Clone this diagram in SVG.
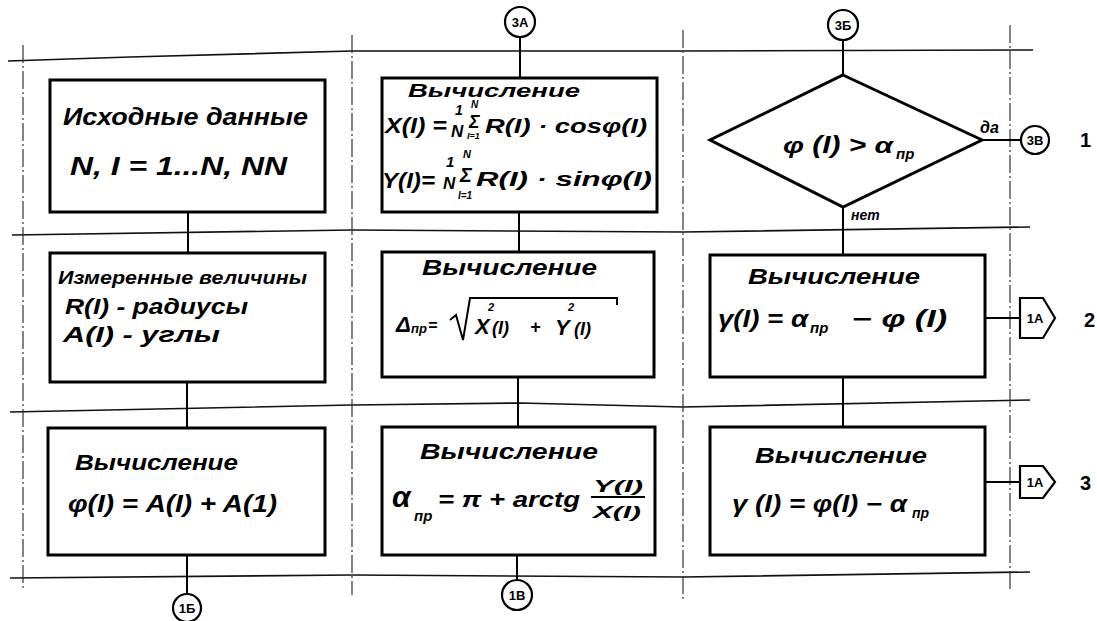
<svg xmlns="http://www.w3.org/2000/svg" width="1097" height="621" viewBox="0 0 1097 621">
<style>
.grid{fill:none;stroke:#111;stroke-width:1.6}
.dash{fill:none;stroke:#333;stroke-width:1.2;stroke-dasharray:18 3 2 3}
.box{fill:#fff;stroke:#000;stroke-width:3}
.con{fill:none;stroke:#000;stroke-width:2}
.cc{fill:#fff;stroke:#000;stroke-width:2.2}
text{font-family:"Liberation Sans",Arial,sans-serif;font-style:italic;font-weight:bold;fill:#000}
.cl{font-size:13px;font-style:normal;text-anchor:middle}
.rl{font-size:20px;font-style:normal}
</style>
<rect width="1097" height="621" fill="#fff"/>
<g id="grid">
<polyline class="grid" points="8,61 130,57 352,51 683,51 1033,50"/>
<polyline class="grid" points="12,235 352,230 683,232 1030,227"/>
<polyline class="grid" points="10,412 352,405 520,403 683,407 1030,400"/>
<polyline class="grid" points="10,578 352,575 683,577 1030,572"/>
<line class="dash" x1="23" y1="45" x2="23" y2="590"/>
<line class="dash" x1="352" y1="35" x2="352" y2="595"/>
<line class="dash" x1="683" y1="30" x2="683" y2="600"/>
<line class="dash" x1="1010" y1="25" x2="1010" y2="590"/>
</g>
<g id="connectors">
<line class="con" x1="520" y1="37" x2="520" y2="78"/>
<line class="con" x1="519" y1="212" x2="519" y2="252"/>
<line class="con" x1="518" y1="377" x2="518" y2="427"/>
<line class="con" x1="517" y1="555" x2="517" y2="580"/>
<line class="con" x1="188" y1="212" x2="188" y2="253"/>
<line class="con" x1="187" y1="382" x2="187" y2="428"/>
<line class="con" x1="187" y1="555" x2="187" y2="594"/>
<line class="con" x1="843" y1="40" x2="843" y2="75"/>
<line class="con" x1="982" y1="140" x2="1021" y2="140"/>
<line class="con" x1="843" y1="207" x2="843" y2="255"/>
<line class="con" x1="843" y1="377" x2="843" y2="427"/>
<line class="con" x1="985" y1="318" x2="1020" y2="318"/>
<line class="con" x1="985" y1="482" x2="1020" y2="482"/>
<text x="980" y="133" style="font-size:16px">да</text>
<text x="851" y="220" style="font-size:14px">нет</text>
</g>
<g id="c3A"><circle class="cc" cx="520" cy="22" r="15"/><text class="cl" x="520" y="27">3А</text></g>
<g id="c3B6"><circle class="cc" cx="843" cy="25" r="15"/><text class="cl" x="843" y="30">3Б</text></g>
<g id="c3V"><circle class="cc" cx="1035" cy="140" r="14"/><text class="cl" x="1035" y="145">3В</text></g>
<g id="c1B6"><circle class="cc" cx="187" cy="608" r="14"/><text class="cl" x="187" y="613">1Б</text></g>
<g id="c1V"><circle class="cc" cx="517" cy="595" r="15"/><text class="cl" x="517" y="600">1В</text></g>
<g id="p1A2"><polygon class="cc" points="1020,298 1043,298 1055,318 1043,338 1020,338"/><text class="cl" x="1035" y="323">1А</text></g>
<g id="p1A3"><polygon class="cc" points="1020,466 1043,466 1055,482 1043,498 1020,498"/><text class="cl" x="1035" y="487">1А</text></g>
<g id="rows">
<text class="rl" x="1080" y="147">1</text>
<text class="rl" x="1084" y="327">2</text>
<text class="rl" x="1080" y="490">3</text>
</g>
<g id="input">
<rect class="box" x="50" y="80" width="275" height="132"/>
<text x="63" y="125" style="font-size:24px" textLength="245" lengthAdjust="spacingAndGlyphs">Исходные данные</text>
<text x="70" y="175" style="font-size:26px" textLength="217" lengthAdjust="spacingAndGlyphs">N, I = 1...N, NN</text>
</g>
<g id="measured">
<rect class="box" x="50" y="253" width="275" height="129"/>
<text x="58" y="284" style="font-size:19px" textLength="249" lengthAdjust="spacingAndGlyphs">Измеренные величины</text>
<text x="65" y="314" style="font-size:22px" textLength="183" lengthAdjust="spacingAndGlyphs">R(I) - радиусы</text>
<text x="63" y="342" style="font-size:22px" textLength="157" lengthAdjust="spacingAndGlyphs">A(I) - углы</text>
</g>
<g id="calcPhi">
<rect class="box" x="48" y="428" width="277" height="127"/>
<text x="75" y="470" style="font-size:22px" textLength="163" lengthAdjust="spacingAndGlyphs">Вычисление</text>
<text x="68" y="512" style="font-size:24px" textLength="209" lengthAdjust="spacingAndGlyphs">φ(I) = A(I) + A(1)</text>
</g>
<g id="calcXY">
<rect class="box" x="382" y="78" width="275" height="134"/>
<text x="408" y="97" style="font-size:18px" textLength="172" lengthAdjust="spacingAndGlyphs">Вычисление</text>
<text x="385" y="133" style="font-size:22px" textLength="62" lengthAdjust="spacingAndGlyphs">X(I) =</text>
<text x="455" y="115" style="font-size:14px">1</text>
<text x="451" y="137" style="font-size:17px">N</text>
<text x="469" y="128" style="font-size:18px">Σ</text>
<text x="471" y="108" style="font-size:10px">N</text>
<text x="467" y="139" style="font-size:9px">I=1</text>
<text x="485" y="133" style="font-size:21px" textLength="162" lengthAdjust="spacingAndGlyphs">R(I) · cosφ(I)</text>
<text x="382" y="188" style="font-size:22px" textLength="53" lengthAdjust="spacingAndGlyphs">Y(I)=</text>
<text x="446" y="167" style="font-size:15px">1</text>
<text x="443" y="189" style="font-size:17px">N</text>
<text x="460" y="182" style="font-size:20px">Σ</text>
<text x="463" y="158" style="font-size:11px">N</text>
<text x="458" y="199" style="font-size:10px">I=1</text>
<text x="476" y="186" style="font-size:21px" textLength="176" lengthAdjust="spacingAndGlyphs">R(I) · sinφ(I)</text>
</g>
<g id="calcDelta">
<rect class="box" x="382" y="252" width="272" height="125"/>
<text x="422" y="275" style="font-size:22px" textLength="175" lengthAdjust="spacingAndGlyphs">Вычисление</text>
<text x="396" y="332" style="font-size:22px">Δ</text>
<text x="411" y="333" style="font-size:13px">пр</text>
<text x="428" y="331" style="font-size:16px">=</text>
<path class="con" d="M450 320 L456 315 L463 340 L470 298 L617 298 L617 305"/>
<text x="475" y="334" style="font-size:22px">X</text>
<text x="488" y="311" style="font-size:11px">2</text>
<text x="492" y="334" style="font-size:18px">(I)</text>
<text x="530" y="333" style="font-size:18px">+</text>
<text x="555" y="335" style="font-size:22px">Y</text>
<text x="568" y="311" style="font-size:11px">2</text>
<text x="574" y="335" style="font-size:18px">(I)</text>
</g>
<g id="calcAlpha">
<rect class="box" x="382" y="427" width="273" height="128"/>
<text x="420" y="459" style="font-size:22px" textLength="178" lengthAdjust="spacingAndGlyphs">Вычисление</text>
<text x="392" y="507" style="font-size:30px">α</text>
<text x="414" y="521" style="font-size:15px">пр</text>
<text x="438" y="507" style="font-size:22px" textLength="142" lengthAdjust="spacingAndGlyphs">= π + arctg</text>
<text x="593" y="492" style="font-size:17px" textLength="50" lengthAdjust="spacingAndGlyphs">Y(I)</text>
<line class="con" x1="591" y1="497" x2="645" y2="497"/>
<text x="593" y="518" style="font-size:17px" textLength="48" lengthAdjust="spacingAndGlyphs">X(I)</text>
</g>
<g id="decision">
<polygon class="box" points="843,75 982,140 843,207 710,140"/>
<text x="783" y="153" style="font-size:23px" textLength="110" lengthAdjust="spacingAndGlyphs">φ (I) &gt; α</text>
<text x="896" y="159" style="font-size:15px">пр</text>
</g>
<g id="calcGamma1">
<rect class="box" x="710" y="255" width="275" height="122"/>
<text x="748" y="284" style="font-size:22px" textLength="172" lengthAdjust="spacingAndGlyphs">Вычисление</text>
<text x="718" y="327" style="font-size:24px" textLength="90" lengthAdjust="spacingAndGlyphs">γ(I) = α</text>
<text x="810" y="333" style="font-size:15px">пр</text>
<text x="852" y="327" style="font-size:24px" textLength="95" lengthAdjust="spacingAndGlyphs">− φ (I)</text>
</g>
<g id="calcGamma2">
<rect class="box" x="710" y="427" width="275" height="128"/>
<text x="755" y="463" style="font-size:22px" textLength="172" lengthAdjust="spacingAndGlyphs">Вычисление</text>
<text x="732" y="512" style="font-size:24px" textLength="175" lengthAdjust="spacingAndGlyphs">γ (I) = φ(I) − α</text>
<text x="912" y="518" style="font-size:14px">пр</text>
</g>
</svg>
